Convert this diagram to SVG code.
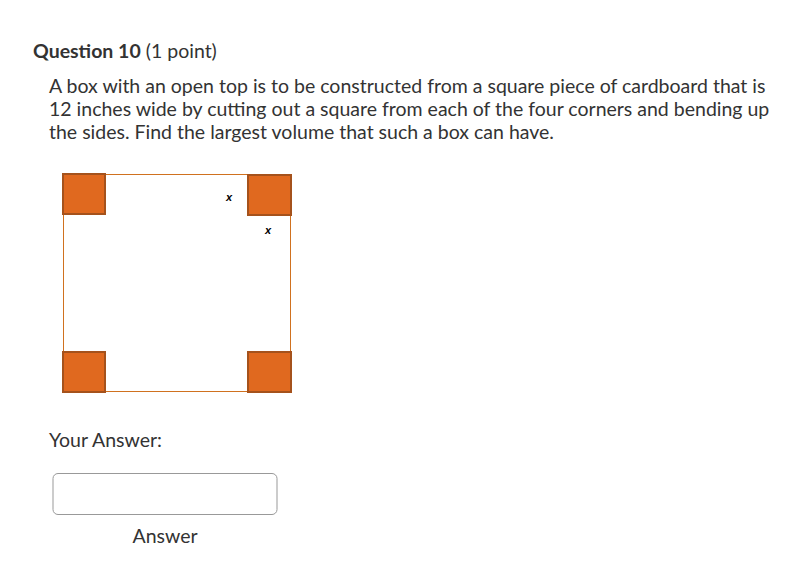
<svg xmlns="http://www.w3.org/2000/svg" width="792" height="563" viewBox="0 0 792 563">
<style>
.t{font-family:Lato,"Liberation Sans",sans-serif;fill:#333;font-size:19.5px}
.cut{fill:#e0691f;stroke:#a5521c;stroke-width:2}
.lbl{font-family:"Liberation Sans",Arial,sans-serif;font-style:italic;font-weight:bold;font-size:11px;fill:#000}
</style>
<rect width="792" height="563" fill="#fff"/>
<g id="title"><text class="t" x="33" y="57.5" font-size="22.2"><tspan font-weight="bold">Question 10</tspan> (1 point)</text></g>
<g id="question">
<text class="t" x="49" y="93">A box with an open top is to be constructed from a square piece of cardboard that is</text>
<text class="t" x="49" y="116">12 inches wide by cutting out a square from each of the four corners and bending up</text>
<text class="t" x="49" y="138.5">the sides. Find the largest volume that such a box can have.</text>
</g>
<g id="sheet"><rect x="63.5" y="174.5" width="227" height="217" fill="#fff" stroke="#d0711f" stroke-width="1"/></g>
<g id="corner-tl"><rect class="cut" x="63" y="174" width="42" height="40"/></g>
<g id="corner-tr"><rect class="cut" x="248" y="175" width="43" height="40"/></g>
<g id="corner-bl"><rect class="cut" x="63" y="352" width="42" height="40"/></g>
<g id="corner-br"><rect class="cut" x="248" y="352" width="43" height="40"/></g>
<g id="labels">
<text class="lbl" x="226" y="201">x</text>
<text class="lbl" x="265" y="234">x</text>
</g>
<g id="answer">
<text class="t" x="49" y="446.5">Your Answer:</text>
<rect x="53" y="473.5" width="224" height="41" rx="5" fill="#fff" stroke="#999" stroke-width="1"/>
<text class="t" x="165" y="542.5" text-anchor="middle">Answer</text>
</g>
</svg>
